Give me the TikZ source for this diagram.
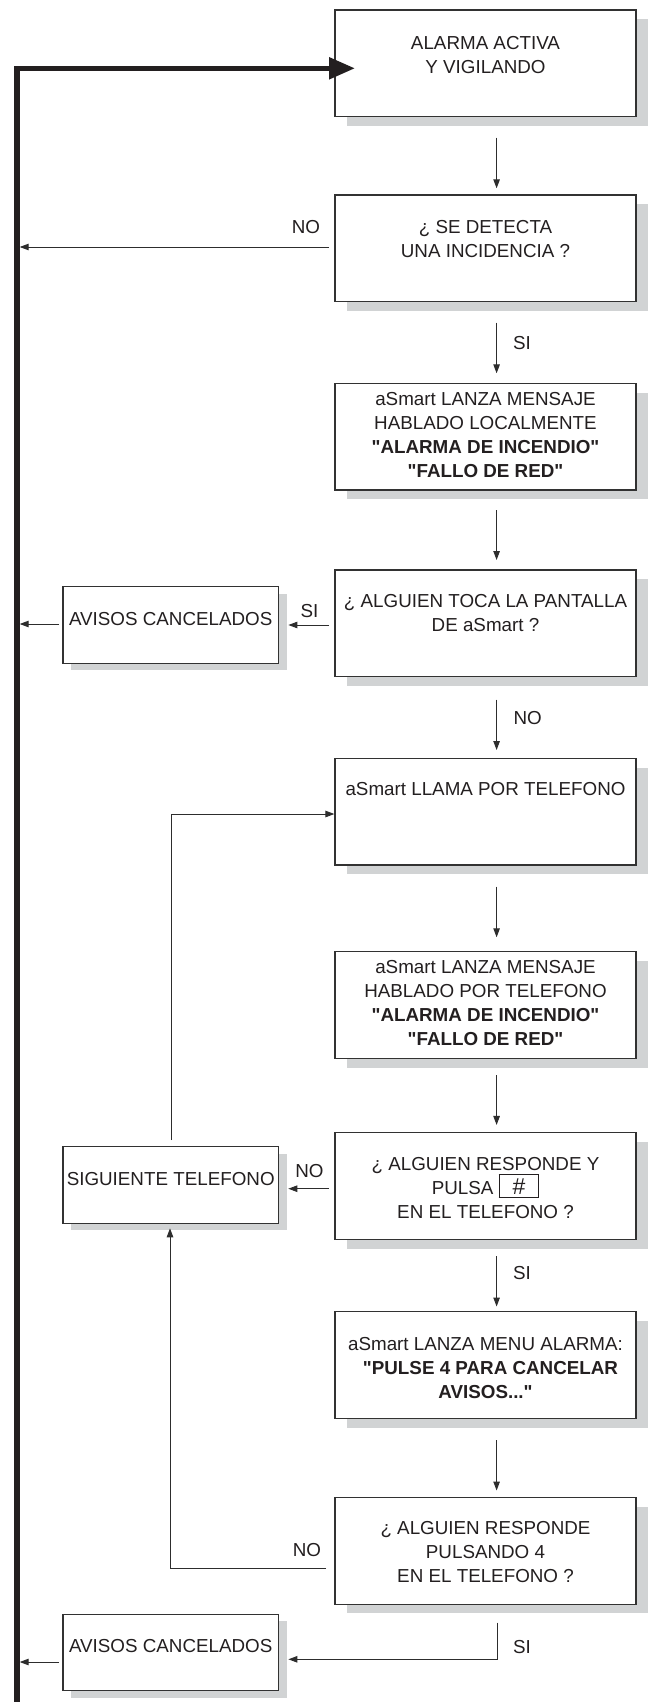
\documentclass[tikz,border=0pt]{standalone}
\usepackage{fontspec}
\setmainfont{Liberation Sans}[Ligatures=TeXOff]
\usetikzlibrary{arrows.meta,calc,shadows}
\definecolor{shc}{RGB}{209,211,212}
\definecolor{boxc}{RGB}{50,50,50}
\definecolor{linec}{RGB}{45,45,45}
\definecolor{txtc}{RGB}{35,31,32}
\newcommand\fsz{\fontsize{18.8}{24}\selectfont}
\newcommand\sL{\rule[-5pt]{0pt}{18pt}}
\newcommand\hashbox{{\setlength\fboxsep{2pt}\setlength\fboxrule{0.9pt}\fbox{\makebox[34.8pt]{\fontsize{23}{23}\selectfont\#}\rule[-0.5pt]{0pt}{18pt}}}}
\begin{document}
\begin{tikzpicture}[x=1pt,y=-1pt,
 rbox/.style={draw=boxc,line width=1.2pt,fill=white,minimum width=301pt,minimum height=106.7pt,inner sep=0pt,outer sep=0pt,
   drop shadow={shadow xshift=11.7pt,shadow yshift=-9.2pt,fill=shc,opacity=1}},
 lbox/.style={draw=boxc,line width=1.2pt,fill=white,minimum width=215.6pt,minimum height=76.6pt,inner sep=0pt,outer sep=0pt,
   drop shadow={shadow xshift=8.4pt,shadow yshift=-6.8pt,fill=shc,opacity=1}},
 txt/.style={align=center,font=\fsz,text=txtc,inner sep=0pt,execute at begin node=\sL,execute at end node=\sL},
 arr/.style={draw=linec,line width=1pt,-{Triangle[length=9pt,width=6.5pt]}},
 rail/.style={draw=txtc,line width=5.3pt,-{Triangle[length=26pt,width=21pt]}},
]
\fill[white] (0,0) rectangle (648,1702);
\useasboundingbox (0,0) rectangle (648,1702);

% boxes
\node[rbox] (b1) at (485.5,63.35) {};
\node[rbox] (b2) at (485.5,248.35) {};
\node[rbox] (b3) at (485.5,436.65) {};
\node[rbox] (b4) at (485.5,623.35) {};
\node[rbox] (b5) at (485.5,811.65) {};
\node[rbox] (b6) at (485.5,1005) {};
\node[rbox] (b7) at (485.5,1186) {};
\node[rbox] (b8) at (485.5,1365.15) {};
\node[rbox] (b9) at (485.5,1550.85) {};
\node[lbox] (l1) at (170.7,625) {};
\node[lbox] (l2) at (170.7,1185) {};
\node[lbox] (l3) at (170.7,1652.5) {};

% texts
\node[txt] (t1) at (485.5,57.5) {ALARMA ACTIVA\\Y VIGILANDO};
\node[txt] (t2) at (485.5,241.3) {¿ SE DETECTA\\UNA INCIDENCIA ?};
\node[txt] (t3) at (485.5,437.5) {aSmart LANZA MENSAJE\\HABLADO LOCALMENTE\\\textbf{"ALARMA DE INCENDIO"}\\\textbf{"FALLO DE RED"}};
\node[txt] (t4) at (485.5,615.5) {¿ ALGUIEN TOCA LA PANTALLA\\DE aSmart ?};
\node[txt] (t5) at (485.5,791.7) {aSmart LLAMA POR TELEFONO};
\node[txt] (t6) at (485.5,1005) {aSmart LANZA MENSAJE\\HABLADO POR TELEFONO\\\textbf{"ALARMA DE INCENDIO"}\\\textbf{"FALLO DE RED"}};
\node[txt] (t7) at (485.5,1190.5) {¿ ALGUIEN RESPONDE Y\\PULSA \hashbox\\EN EL TELEFONO ?};
\node[txt] (t8) at (485.5,1370) {aSmart LANZA MENU ALARMA:\\\hspace*{10pt}\textbf{"PULSE 4 PARA CANCELAR}\\\textbf{AVISOS..."}};
\node[txt] (t9) at (485.5,1554.5) {¿ ALGUIEN RESPONDE\\PULSANDO 4\\EN EL TELEFONO ?};
\node[txt] (u1) at (170.7,621.7) {AVISOS CANCELADOS};
\node[txt] (u2) at (170.7,1181.7) {SIGUIENTE TELEFONO};
\node[txt] (u3) at (170.7,1648.3) {AVISOS CANCELADOS};

% labels
\node[txt] (n1) at (306,229.3) {NO};
\node[txt] (n2) at (522,345) {SI};
\node[txt] (n3) at (309.5,613.3) {SI};
\node[txt] (n4) at (527.6,720.7) {NO};
\node[txt] (n5) at (309.5,1173.3) {NO};
\node[txt] (n6) at (522,1275) {SI};
\node[txt] (n7) at (307,1552.7) {NO};
\node[txt] (n8) at (522,1649.3) {SI};

% helper coordinates
\coordinate (ax) at (496.6,0);
\coordinate (railR) at (19.7,0);
\coordinate (bot) at (17,1712);
\coordinate (tip1) at (355,68.3);

% vertical flow
\draw[arr] ($(b1.south -| ax)+(0,21)$) -- ($(b2.north -| ax)+(0,-6.7)$);
\draw[arr] ($(b2.south -| ax)+(0,21)$) -- ($(b3.north -| ax)+(0,-10)$);
\draw[arr] ($(b3.south -| ax)+(0,20)$) -- ($(b4.north -| ax)+(0,-10)$);
\draw[arr] ($(b4.south -| ax)+(0,23)$) -- ($(b5.north -| ax)+(0,-8.3)$);
\draw[arr] ($(b5.south -| ax)+(0,21.7)$) -- ($(b6.north -| ax)+(0,-14.4)$);
\draw[arr] ($(b6.south -| ax)+(0,16.7)$) -- ($(b7.north -| ax)+(0,-7.7)$);
\draw[arr] ($(b7.south -| ax)+(0,16.7)$) -- ($(b8.north -| ax)+(0,-5.3)$);
\draw[arr] ($(b8.south -| ax)+(0,21.7)$) -- ($(b9.north -| ax)+(0,-7)$);

% side branches
\coordinate (h2) at ($(b2.west)+(-6,-1.35)$);
\draw[arr] (h2) -- (h2 -| railR);
\coordinate (h4) at ($(b4.west)+(-6,1.65)$);
\draw[arr] (h4) -- ($(l1.east)+(9.9,0)$);
\coordinate (h5) at ($(l1.west)+(-3.9,-1)$);
\draw[arr] (h5) -- (h5 -| railR);
\draw[arr] ($(b7.west)+(-6,2.7)$) -- ($(l2.east)+(9.8,3.7)$);
\draw[arr] ($(l2.north)+(0.3,-6.7)$) |- ($(b5.west)+(-0.6,2.35)$);
\draw[arr] ($(b9.west)+(-9,17.85)$) -| ($(l2.south)+(-0.7,5)$);
\draw[arr] ($(b9.south -| ax)+(0.8,18.3)$) |- ($(l3.east)+(9.9,6.8)$);
\coordinate (h9) at ($(l3.west)+(-3.9,9.5)$);
\draw[arr] (h9) -- (h9 -| railR);

% thick return rail
\draw[rail] (bot) |- (tip1);
\end{tikzpicture}
\end{document}
